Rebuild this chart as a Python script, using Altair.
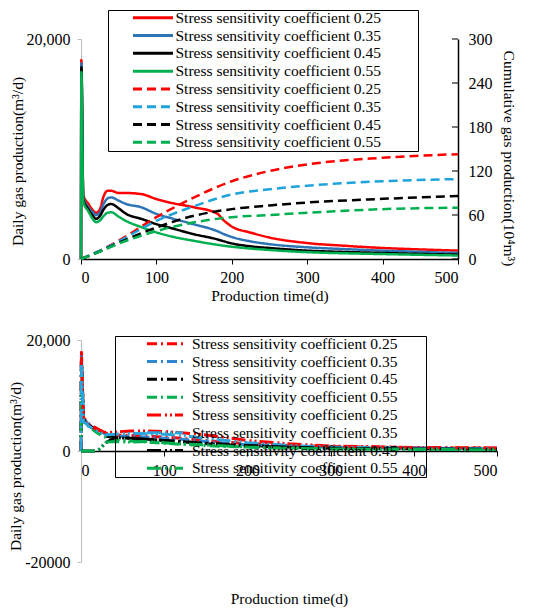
import altair as alt
import pandas as pd

KEYS = ["a25", "a35", "a45", "a55", "b25", "b35", "b45", "b55"]
LABEL_EXPR = "'Stress sensitivity coefficient 0.' + substring(datum.label, 1, 3)"

# ---- top panel: daily production (left axis) ----
t_daily = [0, 0.5, 3, 10, 15, 20, 25, 30, 35, 40, 50, 60, 80, 100, 120, 150, 180, 190,
           200, 225, 250, 300, 350, 400, 450, 500]
daily_025 = [0, 18100, 5800, 5000, 4500, 4200, 4500, 5700, 6200, 6200, 6000, 6000, 5900, 5450,
             5100, 4700, 4150, 3470, 2950, 2400, 1950, 1450, 1200, 1000, 870, 760]
daily_035 = [0, 17800, 5600, 4700, 4300, 4000, 4200, 5000, 5500, 5600, 5300, 5000, 4700, 4100,
             3700, 3150, 2550, 2250, 2000, 1600, 1350, 1060, 900, 760, 650, 550]
daily_045 = [0, 17400, 5400, 4500, 4000, 3650, 3900, 4500, 4900, 5000, 4600, 4100, 3650, 3170,
             2800, 2250, 1800, 1600, 1420, 1150, 1000, 760, 640, 550, 460, 400]
daily_055 = [0, 17000, 5200, 4300, 3700, 3350, 3500, 3900, 4200, 4250, 3850, 3450, 2900, 2420,
             2050, 1650, 1300, 1200, 1120, 950, 820, 620, 520, 450, 380, 320]

# ---- top panel: cumulative production (right axis) ----
t_cum = [0, 20, 50, 100, 150, 200, 250, 300, 400, 500]
cum_025 = [0, 9, 25, 57, 84, 106, 120, 129, 138, 143]
cum_035 = [0, 9, 24, 52, 72, 88, 95, 100, 106, 109]
cum_045 = [0, 8, 22, 43, 59, 68, 73, 77, 82, 86]
cum_055 = [0, 8, 21, 38, 50, 57, 60, 63, 68, 70]
CUM_TICKS = [0, 60, 120, 180, 240, 300]

# ---- bottom panel ----
t_bot = [0, 0.5, 3, 10, 20, 30, 40, 60, 80, 100, 120, 150, 200, 250, 300, 400, 500]
bot_a25 = [0, 18000, 6000, 4800, 4000, 3200, 2900, 2800, 2700, 2500, 2300, 1900, 1300, 1000, 800, 600, 500]
bot_a35 = [0, 17200, 5800, 4700, 3800, 3000, 2700, 2600, 2500, 2300, 2100, 1700, 1100, 850, 650, 500, 400]
bot_a45 = [0, 16600, 5600, 4600, 3600, 2700, 2400, 2300, 2100, 1900, 1700, 1300, 900, 700, 550, 420, 330]
bot_a55 = [0, 16000, 5300, 4300, 3200, 2400, 2000, 1800, 1600, 1400, 1200, 950, 700, 550, 450, 350, 280]
bot_b25 = [0, 16800, 5500, 4600, 3800, 3300, 3400, 3600, 3600, 3500, 3300, 2900, 1900, 1300, 900, 650, 550]
bot_b35 = [0, 15500, 5300, 4400, 3500, 2900, 3000, 3200, 3100, 3000, 2800, 2300, 1500, 1000, 700, 500, 420]
bot_b45 = [0, 0, 0, 0, 0, 1500, 2400, 2300, 2100, 1900, 1700, 1400, 1000, 700, 500, 380, 320]
bot_b55 = [0, 0, 0, 0, 0, 1600, 1700, 1600, 1700, 1500, 1300, 1100, 700, 500, 380, 280, 220]

TOP_COLORS = ["#ff0000", "#2e75b6", "#000000", "#00b050", "#ff0000", "#1fa3dc", "#000000", "#00b050"]
TOP_DASH = [[1, 0]] * 4 + [[9, 5]] * 4
BOT_COLORS = ["#ff0000", "#2e86d0", "#000000", "#00b050", "#ff0000", "#2aa5dc", "#000000", "#00b050"]
BOT_DASH = [[10, 4, 2, 4]] * 4 + [[14, 4, 2, 3, 2, 3]] * 4

rows = []
for k, vals in zip(KEYS[:4], [daily_025, daily_035, daily_045, daily_055]):
    for t, v in zip(t_daily, vals):
        rows.append({"key": k, "t": t, "v": v, "kind": "d"})
for k, vals in zip(KEYS[4:], [cum_025, cum_035, cum_045, cum_055]):
    for t, v in zip(t_cum, vals):
        rows.append({"key": k, "t": t, "v": v, "kind": "c"})
df_top = pd.DataFrame(rows)

rows = []
for k, vals in zip(KEYS, [bot_a25, bot_a35, bot_a45, bot_a55, bot_b25, bot_b35, bot_b45, bot_b55]):
    for t, v in zip(t_bot, vals):
        rows.append({"key2": k, "t": t, "v": v})
df_bot = pd.DataFrame(rows)

SERIF = "Liberation Serif"


def make_legend(x, y, path, lab_off, fill):
    return alt.Legend(
        title=None, orient="none", legendX=x, legendY=y,
        labelExpr=LABEL_EXPR, symbolType=path, symbolSize=64,
        symbolStrokeWidth=3, symbolOffset=0, labelOffset=lab_off,
        labelFont=SERIF, labelFontSize=15.5, labelColor="black", labelLimit=500,
        strokeColor="black", fillColor=fill, padding=0, rowPadding=0.8,
    )


top_leg = make_legend(27, -29, "M 4.31 0 L 14.31 0 M 74 0 L 74 0", 52, "white")
xscale = alt.Scale(domain=[0, 500], nice=False)
x_top = alt.X("t:Q", scale=xscale, title="Production time(d)",
              axis=alt.Axis(values=[0, 100, 200, 300, 400, 500], domainColor="black", domainWidth=1.5,
                            tickColor="black", tickSize=5, labelPadding=5, titlePadding=3))

color_top = alt.Color("key:N", scale=alt.Scale(domain=KEYS, range=TOP_COLORS), legend=top_leg)
dash_top = alt.StrokeDash("key:N", scale=alt.Scale(domain=KEYS, range=TOP_DASH), legend=top_leg)

base = alt.Chart(df_top)
daily = base.transform_filter("datum.kind == 'd'").mark_line(strokeWidth=2.5, interpolate="monotone").encode(
    x=x_top,
    y=alt.Y("v:Q", scale=alt.Scale(domain=[0, 20000], nice=False), title="Daily gas production(m³/d)",
            axis=alt.Axis(orient="left", values=[0, 20000], labelExpr="format(datum.value, ',')",
                          domainColor="#bfbfbf", tickColor="#bfbfbf", tickSize=4, labelPadding=7,
                          titlePadding=1, titleY=122)),
    color=color_top, strokeDash=dash_top, order="t:Q",
)
cum_scale = alt.Scale(domain=[0, 300], nice=False)
cum_axis = alt.Axis(orient="right", values=CUM_TICKS, domainColor="black", domainWidth=1.5,
                    tickSize=0, labelPadding=10, titlePadding=8, titleY=119)
cum_title = "Cumulative gas production(10⁴m³)"
cum = base.transform_filter("datum.kind == 'c'").mark_line(strokeWidth=2.5, interpolate="monotone").encode(
    x=x_top,
    y=alt.Y("v:Q", scale=cum_scale, title=cum_title, axis=cum_axis),
    color=color_top, strokeDash=dash_top, order="t:Q",
)
inner_ticks = alt.Chart(pd.DataFrame({"v": CUM_TICKS})).mark_tick(
    orient="horizontal", size=6, thickness=1.5, color="black", xOffset=-3
).encode(x=alt.X(datum=500), y=alt.Y("v:Q", scale=cum_scale, title=cum_title, axis=cum_axis))
right = alt.layer(cum, inner_ticks)
top = alt.layer(daily, right).resolve_scale(y="independent").properties(width=377, height=220)

bot_leg = make_legend(34, -4, "M 6.06 0 L 15.06 0 M 74.3 0 L 74.3 0", 61.5, "transparent")
bottom = alt.Chart(df_bot).mark_line(strokeWidth=3).encode(
    x=alt.X("t:Q", scale=xscale, title="Production time(d)",
            axis=alt.Axis(values=[0, 100, 200, 300, 400, 500], offset=-111, domainColor="black",
                          domainWidth=1.5, tickColor="black", tickSize=5, labelPadding=6,
                          titlePadding=113)),
    y=alt.Y("v:Q", scale=alt.Scale(domain=[-20000, 20000], nice=False), title="Daily gas production(m³/d)",
            axis=alt.Axis(values=[-20000, 0, 20000],
                          labelExpr="datum.value == -20000 ? '-20000' : format(datum.value, ',')",
                          domainColor="#bfbfbf", tickColor="#bfbfbf", tickSize=4, labelPadding=7,
                          titlePadding=1, titleY=126)),
    color=alt.Color("key2:N", scale=alt.Scale(domain=KEYS, range=BOT_COLORS), legend=bot_leg),
    strokeDash=alt.StrokeDash("key2:N", scale=alt.Scale(domain=KEYS, range=BOT_DASH), legend=bot_leg),
    order="t:Q",
).properties(width=416, height=222)

chart = alt.vconcat(top, bottom, spacing=28).resolve_scale(
    color="independent", strokeDash="independent", x="independent"
).resolve_legend(color="independent", strokeDash="independent").properties(
    padding={"left": 0, "top": 1, "right": 8, "bottom": 0}
).configure_axis(
    labelFont=SERIF, labelFontSize=16, labelColor="black", titleFont=SERIF, titleFontSize=15.5,
    titleFontWeight="normal", titleColor="black", grid=False,
).configure_view(stroke=None)

chart.save("out.html", embed_options={"renderer": "svg", "actions": False})
